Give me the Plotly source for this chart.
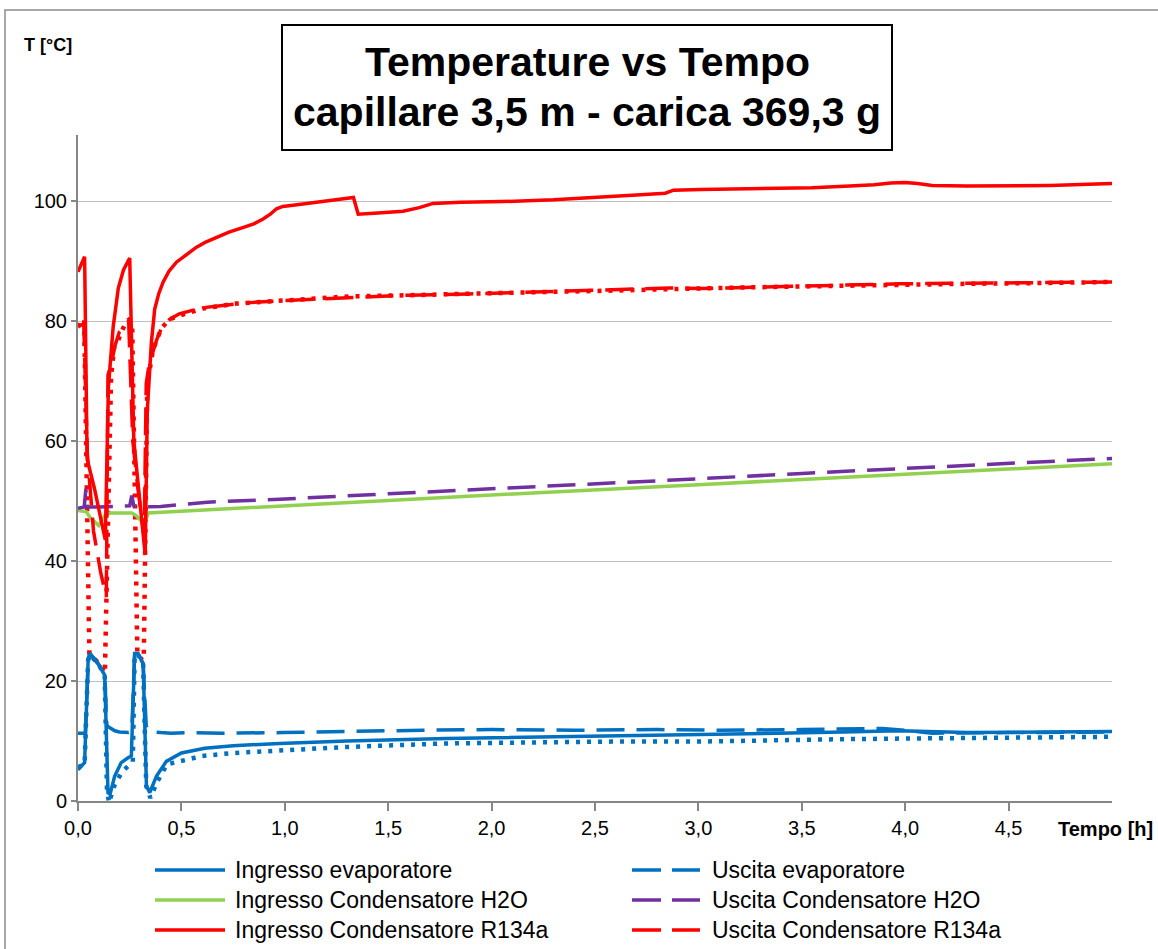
import plotly.graph_objects as go

# ---------------- data (time in hours, temperature in °C) ----------------
t_ev_in = [0, 0.032, 0.049, 0.057, 0.097, 0.129, 0.145, 0.155, 0.177, 0.209, 0.242, 0.258,
           0.274, 0.29, 0.315, 0.331, 0.347, 0.379, 0.427, 0.5, 0.613, 0.75, 0.975, 1.3,
           1.78, 2.2, 2.58, 3.0, 3.38, 3.7, 3.97, 4.3, 4.6, 5.0]
T_ev_in = [5.2, 6.4, 23.5, 24.6, 22.9, 21.0, 1.4, 1.1, 4.1, 6.4, 7.2, 7.5,
           24.6, 24.6, 22.9, 2.5, 1.4, 4.1, 6.6, 8.0, 8.8, 9.2, 9.6, 10.0,
           10.4, 10.6, 10.8, 11.1, 11.3, 11.5, 11.7, 11.4, 11.5, 11.6]

t_ev_out = [0, 0.035, 0.05, 0.057, 0.097, 0.129, 0.14, 0.16, 0.178, 0.2, 0.245, 0.26,
            0.274, 0.29, 0.315, 0.33, 0.345, 0.4, 0.45, 0.55, 0.7, 0.99, 1.3, 1.67,
            2.0, 2.4, 2.8, 3.09, 3.5, 3.89, 4.0, 4.13, 4.5, 5.0]
T_ev_out = [11.3, 11.3, 23.5, 24.6, 22.9, 21.0, 12.5, 12.0, 11.7, 11.5, 11.4, 11.6,
            24.6, 24.6, 22.9, 12.5, 11.6, 11.4, 11.3, 11.4, 11.3, 11.4, 11.6, 11.8,
            11.9, 11.8, 11.9, 11.8, 11.9, 12.1, 11.8, 11.3, 11.4, 11.5]

t_ev_dot = [0, 0.032, 0.049, 0.057, 0.097, 0.129, 0.14, 0.15, 0.175, 0.21, 0.25, 0.265,
            0.274, 0.29, 0.315, 0.33, 0.35, 0.38, 0.43, 0.53, 0.6, 0.75, 0.99, 1.3,
            1.78, 2.2, 2.58, 3.0, 3.38, 3.7, 3.97, 4.3, 4.6, 5.0]
T_ev_dot = [5.6, 6.2, 23.5, 24.4, 22.9, 21.0, 2.0, -0.3, 2.5, 4.7, 6.1, 6.5,
            24.4, 24.4, 22.9, 2.5, 0.5, 3.0, 6.1, 6.9, 7.5, 8.0, 8.5, 9.0,
            9.6, 9.8, 9.9, 9.9, 10.2, 10.3, 10.4, 10.5, 10.6, 10.7]

t_h2o_in = [0, 0.04, 0.06, 0.1, 0.13, 0.15, 0.26, 0.28, 0.32, 0.34, 0.61, 0.975,
            1.5, 2.0, 2.5, 3.0, 3.5, 4.0, 4.5, 5.0]
T_h2o_in = [48.4, 48.2, 47.2, 45.9, 47.6, 48.0, 48.0, 47.6, 46.2, 48.0, 48.5, 49.2,
            50.1, 51.0, 51.8, 52.7, 53.6, 54.5, 55.3, 56.2]

t_h2o_out = [0, 0.03, 0.038, 0.045, 0.1, 0.2, 0.25, 0.26, 0.27, 0.3, 0.4, 0.625, 0.975,
             1.5, 2.0, 2.5, 3.0, 3.5, 4.0, 4.5, 5.0]
T_h2o_out = [48.8, 49.0, 52.0, 49.0, 49.0, 49.1, 49.2, 50.9, 49.2, 49.0, 49.1, 49.8, 50.3,
             51.2, 52.0, 52.9, 53.7, 54.6, 55.4, 56.3, 57.1]

t_r_in = [0, 0.032, 0.044, 0.08, 0.132, 0.147, 0.17, 0.195, 0.22, 0.25, 0.27, 0.30,
          0.325, 0.335, 0.355, 0.371, 0.39, 0.412, 0.44, 0.476, 0.52, 0.573, 0.62, 0.67,
          0.73, 0.8, 0.85, 0.895, 0.93, 0.96, 0.99, 1.04, 1.1, 1.2, 1.332, 1.355, 1.45,
          1.572, 1.65, 1.717, 1.85, 2.056, 2.3, 2.54, 2.7, 2.84, 2.88, 3.01, 3.3, 3.55,
          3.733, 3.85, 3.93, 4.0, 4.06, 4.13, 4.3, 4.46, 4.7, 5.0]
T_r_in = [88.2, 90.7, 57.0, 52.0, 43.5, 69.0, 79.0, 85.5, 88.5, 90.5, 60.0, 50.0,
          41.0, 65.0, 76.5, 82.0, 84.5, 86.5, 88.3, 89.8, 91.0, 92.3, 93.2, 93.9,
          94.8, 95.6, 96.2, 97.0, 97.8, 98.7, 99.1, 99.3, 99.6, 100.0, 100.6, 97.8, 98.0,
          98.3, 98.9, 99.6, 99.8, 99.9, 100.2, 100.6, 101.0, 101.3, 101.8, 101.9, 102.0, 102.2,
          102.5, 102.7, 103.0, 103.1, 102.9, 102.6, 102.5, 102.5, 102.6, 102.9]

t_r_out = [0, 0.028, 0.045, 0.075, 0.11, 0.137, 0.145, 0.16, 0.18, 0.2, 0.234, 0.245,
           0.265, 0.29, 0.32, 0.33, 0.345, 0.363, 0.38, 0.403, 0.444, 0.49, 0.55, 0.6,
           0.7, 0.8, 0.99, 1.2, 1.41, 1.6, 1.89, 2.1, 2.38, 2.6, 2.86, 3.01, 3.25, 3.49,
           3.75, 3.97, 4.3, 4.6, 5.0]
T_r_out = [79.2, 79.5, 58.0, 45.0, 38.0, 34.0, 71.0, 72.7, 76.0, 78.2, 79.6, 80.0,
           60.0, 52.0, 44.0, 69.6, 73.0, 75.2, 76.8, 78.8, 80.3, 81.2, 81.7, 82.2,
           82.6, 83.0, 83.4, 83.7, 84.0, 84.3, 84.5, 84.7, 84.9, 85.2, 85.5, 85.4, 85.6, 85.9,
           86.0, 86.2, 86.3, 86.4, 86.5]

t_r_dot = [0, 0.03, 0.055, 0.098, 0.13, 0.16, 0.175, 0.195, 0.21, 0.234, 0.245, 0.262,
           0.287, 0.31, 0.318, 0.335, 0.363, 0.38, 0.403, 0.444, 0.5, 0.605, 0.766, 0.99,
           1.31, 1.6, 1.9, 2.2, 2.5, 2.8, 3.1, 3.4, 3.7, 4.0, 4.3, 4.6, 5.0]
T_r_dot = [79.0, 80.3, 24.6, 23.0, 21.3, 70.7, 75.7, 76.8, 78.2, 79.9, 80.2, 79.5,
           24.6, 23.5, 23.5, 69.6, 75.2, 76.8, 78.8, 80.3, 81.0, 82.1, 82.9, 83.4,
           84.1, 84.3, 84.6, 84.8, 85.0, 85.3, 85.5, 85.7, 85.9, 86.1, 86.2, 86.3, 86.5]

x_tickvals = [0, 0.5, 1.0, 1.5, 2.0, 2.5, 3.0, 3.5, 4.0, 4.5]
x_ticktext = ["0,0", "0,5", "1,0", "1,5", "2,0", "2,5", "3,0", "3,5", "4,0", "4,5"]
y_tickvals = [0, 20, 40, 60, 80, 100]

BLUE, GREEN, PURPLE, RED = "#0070C0", "#92D050", "#7030A0", "#FF0000"
DASH = "28px,12px"
DOT = "4px,7px"
W = 3.5
FONT = "Liberation Sans, Arial, sans-serif"

series = [
    ("Ingresso evaporatore", t_ev_in, T_ev_in, BLUE, "solid"),
    ("Uscita evaporatore", t_ev_out, T_ev_out, BLUE, DASH),
    ("Ingresso Condensatore H2O", t_h2o_in, T_h2o_in, GREEN, "solid"),
    ("Uscita Condensatore H2O", t_h2o_out, T_h2o_out, PURPLE, DASH),
    ("Ingresso Condensatore R134a", t_r_in, T_r_in, RED, "solid"),
    ("Uscita Condensatore R134a", t_r_out, T_r_out, RED, DASH),
]
extra = [
    ("evaporatore (punteggiata)", t_ev_dot, T_ev_dot, BLUE, DOT),
    ("R134a (punteggiata)", t_r_dot, T_r_dot, RED, DOT),
]

fig = go.Figure()
for name, tx, ty, col, dash in extra + series:
    fig.add_trace(go.Scatter(x=tx, y=ty, name=name, mode="lines",
                             line=dict(color=col, width=4.5 if dash == DOT else W, dash=dash),
                             showlegend=False))

# geometry helpers (pixels -> paper)
L, R, T, B = 78, 46, 135, 148
FW, FH = 1158, 949
PW, PH = FW - L - R, FH - T - B
def px(x):
    return (x - L) / PW
def py(y):
    return (FH - B - y) / PH

shapes = []
annotations = []
# outer chart border
shapes.append(dict(type="rect", xref="paper", yref="paper", x0=px(5), x1=px(1175),
                   y0=py(970), y1=py(10), line=dict(color="#8C8C8C", width=1.5),
                   fillcolor="rgba(0,0,0,0)", layer="below"))
# title box
shapes.append(dict(type="rect", xref="paper", yref="paper", x0=px(282), x1=px(892),
                   y0=py(150), y1=py(25), line=dict(color="black", width=2),
                   fillcolor="white", layer="above"))
annotations.append(dict(text="<b>Temperature vs Tempo</b>", xref="paper", yref="paper",
                        x=px(587), y=py(62), showarrow=False, xanchor="center", yanchor="middle",
                        font=dict(family=FONT, size=41, color="black")))
annotations.append(dict(text="<b>capillare 3,5 m - carica 369,3 g</b>", xref="paper", yref="paper",
                        x=px(587), y=py(112), showarrow=False, xanchor="center", yanchor="middle",
                        font=dict(family=FONT, size=41, color="black")))
annotations.append(dict(text="<b>T [°C]</b>", xref="paper", yref="paper",
                        x=px(22), y=py(45), showarrow=False, xanchor="left", yanchor="middle",
                        font=dict(family=FONT, size=18, color="black")))
annotations.append(dict(text="<b>Tempo [h]</b>", xref="paper", yref="paper",
                        x=px(1155), y=py(829), showarrow=False, xanchor="right", yanchor="middle",
                        font=dict(family=FONT, size=20, color="black")))

# manual legend
rows = [870, 900, 930]
cols = [(155, 225, 233), (632, 700, 710)]
for i, (name, tx, ty, col, dash) in enumerate(series):
    r, c = divmod(i, 2)
    x0, x1, xt = cols[c]
    yy = py(rows[r])
    shapes.append(dict(type="line", xref="paper", yref="paper", x0=px(x0), x1=px(x1),
                       y0=yy, y1=yy, line=dict(color=col, width=W,
                                               dash="solid" if dash == "solid" else "29px,11px")))
    annotations.append(dict(text=name, xref="paper", yref="paper", x=px(xt), y=yy,
                            showarrow=False, xanchor="left", yanchor="middle",
                            font=dict(family=FONT, size=23, color="black")))

fig.update_layout(
    width=FW, height=FH,
    margin=dict(l=L, r=R, t=T, b=B, pad=0),
    paper_bgcolor="white", plot_bgcolor="white",
    showlegend=False,
    font=dict(family=FONT, size=20, color="black"),
    shapes=shapes, annotations=annotations,
    xaxis=dict(range=[0, 5], tickvals=x_tickvals, ticktext=x_ticktext,
               showgrid=False, zeroline=False, showline=True, linecolor="#868686", linewidth=2,
               ticks="outside", ticklen=8, tickwidth=2, tickcolor="#868686",
               tickfont=dict(family=FONT, size=20, color="black")),
    yaxis=dict(range=[0, 111], tickvals=y_tickvals,
               showgrid=True, gridcolor="#BFBFBF", gridwidth=1.3, zeroline=False,
               showline=True, linecolor="#868686", linewidth=2,
               ticks="outside", ticklen=5, tickwidth=1.5, tickcolor="#868686",
               tickfont=dict(family=FONT, size=20, color="black")),
)

fig.write_html("out.html")
